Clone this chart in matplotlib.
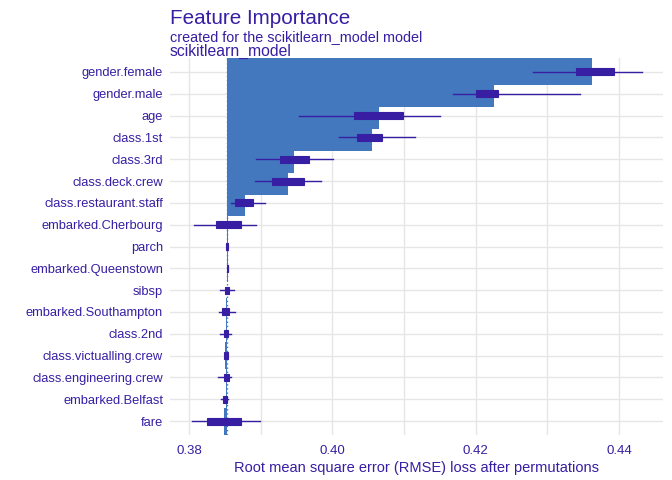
import matplotlib
matplotlib.use("Agg")
import matplotlib.pyplot as plt
from matplotlib.ticker import MultipleLocator

# feature importance values (top to bottom)
features = ["gender.female", "gender.male", "age", "class.1st", "class.3rd",
            "class.deck.crew", "class.restaurant.staff", "embarked.Cherbourg",
            "parch", "embarked.Queenstown", "sibsp", "embarked.Southampton",
            "class.2nd", "class.victualling.crew", "class.engineering.crew",
            "embarked.Belfast", "fare"]
mean_loss = [0.4363, 0.4225, 0.4065, 0.4055, 0.3947, 0.3938, 0.3878, 0.3855,
             0.3854, 0.3854, 0.3853, 0.3852, 0.3851, 0.3850, 0.3851, 0.3851, 0.3849]
whis_lo = [0.4280, 0.4168, 0.3953, 0.4009, 0.3893, 0.3892, 0.3859, 0.3807,
           0.3852, 0.3853, 0.3843, 0.3842, 0.3843, 0.3849, 0.3841, 0.3845, 0.3804]
q1 = [0.4340, 0.4200, 0.4030, 0.4034, 0.3927, 0.3916, 0.3864, 0.3838,
      0.3852, 0.3853, 0.3850, 0.3846, 0.3849, 0.3849, 0.3849, 0.3848, 0.3825]
q3 = [0.4393, 0.4231, 0.4099, 0.4069, 0.3967, 0.3960, 0.3889, 0.3873,
      0.3855, 0.3855, 0.3856, 0.3856, 0.3854, 0.3854, 0.3856, 0.3853, 0.3873]
whis_hi = [0.4432, 0.4346, 0.4150, 0.4115, 0.4001, 0.3984, 0.3906, 0.3893,
           0.3855, 0.3855, 0.3863, 0.3864, 0.3859, 0.3854, 0.3859, 0.3854, 0.3899]
baseline = 0.3853

bar_col = "#4378bf"
box_col = "#371ea3"
txt_col = "#371ea3"
grid_col = "#e6e6e6"

plt.rcParams["font.family"] = ["Liberation Sans", "DejaVu Sans"]

fig = plt.figure(figsize=(6.72, 4.8), dpi=100)
ax = fig.add_axes([170 / 672, 1 - 435 / 480, (663 - 170) / 672, (435 - 58) / 480])

n = len(features)
ypos = list(range(n, 0, -1))

ax.set_axisbelow(True)
for i in range(n - 1, -1, -1):
    ax.barh(ypos[i], mean_loss[i] - baseline, left=baseline, height=1.24,
            color=bar_col, linewidth=0, zorder=2)

ax.axvline(baseline, color=bar_col, linestyle=(0, (1, 2)), linewidth=1, zorder=2.5)

stats = []
for i in range(n):
    stats.append(dict(med=(q1[i] + q3[i]) / 2, q1=q1[i], q3=q3[i],
                      whislo=whis_lo[i], whishi=whis_hi[i], fliers=[]))
ax.bxp(stats, positions=ypos, vert=False, widths=0.32, patch_artist=True,
       showcaps=False, showfliers=False,
       boxprops=dict(facecolor=box_col, edgecolor=box_col, linewidth=0.8),
       whiskerprops=dict(color=box_col, linewidth=1),
       medianprops=dict(color=box_col, linewidth=0.8),
       zorder=3, manage_ticks=False)

ax.set_xlim(0.37735, 0.44614)
ax.set_ylim(0.36, n + 0.64)
ax.xaxis.set_major_locator(MultipleLocator(0.02))
ax.xaxis.set_minor_locator(MultipleLocator(0.01))
ax.set_xticks([0.38, 0.40, 0.42, 0.44])
ax.set_xticklabels(["0.38", "0.40", "0.42", "0.44"])
ax.set_yticks(ypos)
ax.set_yticklabels(features)
ax.grid(True, which="both", axis="x", color=grid_col, linewidth=1, zorder=0)
ax.grid(True, which="major", axis="y", color=grid_col, linewidth=1, zorder=0)
for s in ax.spines.values():
    s.set_visible(False)
ax.tick_params(axis="both", which="both", length=0, colors=txt_col, labelsize=9.5)
ax.tick_params(axis="y", pad=5, labelsize=9.3)
ax.tick_params(axis="x", pad=7)
ax.set_xlabel("Root mean square error (RMSE) loss after permutations",
              color=txt_col, fontsize=10.5, labelpad=3)

fig.text(170 / 672, 1 - 9 / 480, "Feature Importance", color=txt_col,
         fontsize=14.9, va="top", ha="left")
fig.text(170 / 672, 1 - 30 / 480, "created for the scikitlearn_model model",
         color=txt_col, fontsize=10.4, va="top", ha="left")
fig.text(170 / 672, 1 - 44 / 480, "scikitlearn_model", color=txt_col,
         fontsize=11.3, va="top", ha="left")

fig.savefig("out.png", dpi=100)
